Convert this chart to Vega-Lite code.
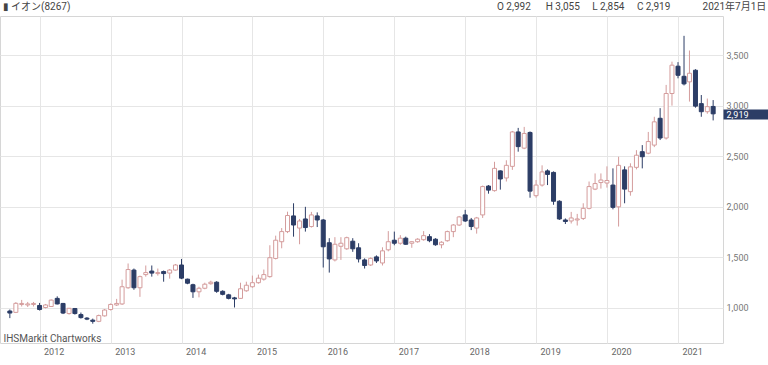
{
  "$schema": "https://vega.github.io/schema/vega-lite/v6.json",
  "width": 723,
  "height": 327,
  "autosize": {"type": "none"},
  "padding": {"left": 0, "top": 16, "right": 45, "bottom": 22},
  "background": "#ffffff",
  "config": {
    "view": {"stroke": "#d6d6d6"},
    "font": "Roboto"
  },
  "title": {
    "text": "▮ イオン(8267)\u00a0\u00a0\u00a0\u00a0\u00a0\u00a0\u00a0\u00a0\u00a0\u00a0\u00a0\u00a0\u00a0\u00a0\u00a0\u00a0\u00a0\u00a0\u00a0\u00a0\u00a0\u00a0\u00a0\u00a0\u00a0\u00a0\u00a0\u00a0\u00a0\u00a0\u00a0\u00a0\u00a0\u00a0\u00a0\u00a0\u00a0\u00a0\u00a0\u00a0\u00a0\u00a0\u00a0\u00a0\u00a0\u00a0\u00a0\u00a0\u00a0\u00a0\u00a0\u00a0\u00a0\u00a0\u00a0\u00a0\u00a0\u00a0\u00a0\u00a0\u00a0\u00a0\u00a0\u00a0\u00a0\u00a0\u00a0\u00a0\u00a0\u00a0\u00a0\u00a0\u00a0\u00a0\u00a0\u00a0\u00a0\u00a0\u00a0\u00a0\u00a0\u00a0\u00a0\u00a0\u00a0\u00a0\u00a0\u00a0\u00a0\u00a0\u00a0\u00a0\u00a0\u00a0\u00a0\u00a0\u00a0\u00a0\u00a0\u00a0\u00a0\u00a0\u00a0\u00a0\u00a0\u00a0\u00a0\u00a0\u00a0\u00a0\u00a0\u00a0\u00a0\u00a0\u00a0\u00a0\u00a0\u00a0\u00a0\u00a0\u00a0\u00a0\u00a0\u00a0\u00a0\u00a0\u00a0\u00a0\u00a0\u00a0\u00a0\u00a0\u00a0\u00a0\u00a0\u00a0\u00a0\u00a0\u00a0\u00a0\u00a0\u00a0\u00a0\u00a0\u00a0\u00a0\u00a0\u00a0\u00a0\u00a0\u00a0\u00a0\u00a0\u00a0\u00a0\u00a0\u00a0\u00a0\u00a0\u00a0\u00a0\u00a0\u00a0\u00a0\u00a0\u00a0\u00a0\u00a0\u00a0\u00a0\u00a0\u00a0O 2,992\u00a0\u00a0\u00a0\u00a0\u00a0\u00a0H 3,055\u00a0\u00a0\u00a0\u00a0\u00a0L 2,854\u00a0\u00a0\u00a0\u00a0\u00a0C 2,919\u00a0\u00a0\u00a0\u00a0\u00a0\u00a0\u00a0\u00a0\u00a0\u00a0\u00a0\u00a0\u00a02021年7月1日",
    "anchor": "start",
    "frame": "group",
    "offset": 4,
    "dx": 3,
    "fontSize": 10,
    "font": "Roboto, 'Noto Sans CJK JP', 'DejaVu Sans'",
    "fontWeight": "normal",
    "color": "#444444"
  },
  "data": {
    "values": [
      {"d": "2011-08-01", "o": 970, "h": 985, "l": 900, "c": 950},
      {"d": "2011-09-01", "o": 957, "h": 1058, "l": 950, "c": 1046},
      {"d": "2011-10-01", "o": 1035, "h": 1080, "l": 1015, "c": 1045},
      {"d": "2011-11-01", "o": 1030, "h": 1060, "l": 1010, "c": 1040},
      {"d": "2011-12-01", "o": 1035, "h": 1060, "l": 1015, "c": 1045},
      {"d": "2012-01-01", "o": 1025, "h": 1050, "l": 975, "c": 985},
      {"d": "2012-02-01", "o": 1005, "h": 1040, "l": 995, "c": 1030},
      {"d": "2012-03-01", "o": 1015, "h": 1085, "l": 1010, "c": 1078},
      {"d": "2012-04-01", "o": 1095, "h": 1115, "l": 1035, "c": 1040},
      {"d": "2012-05-01", "o": 1045, "h": 1050, "l": 940, "c": 950},
      {"d": "2012-06-01", "o": 945, "h": 1000, "l": 935, "c": 997},
      {"d": "2012-07-01", "o": 995, "h": 1000, "l": 935, "c": 945},
      {"d": "2012-08-01", "o": 935, "h": 955, "l": 895, "c": 905},
      {"d": "2012-09-01", "o": 900, "h": 910, "l": 880, "c": 890},
      {"d": "2012-10-01", "o": 880, "h": 895, "l": 845, "c": 868},
      {"d": "2012-11-01", "o": 868, "h": 935, "l": 860, "c": 925},
      {"d": "2012-12-01", "o": 922, "h": 990, "l": 915, "c": 980},
      {"d": "2013-01-01", "o": 985, "h": 1045, "l": 975, "c": 1035},
      {"d": "2013-02-01", "o": 1030, "h": 1090, "l": 1020, "c": 1045},
      {"d": "2013-03-01", "o": 1040, "h": 1280, "l": 1030, "c": 1210},
      {"d": "2013-04-01", "o": 1200, "h": 1440, "l": 1190, "c": 1380},
      {"d": "2013-05-01", "o": 1375, "h": 1390, "l": 1180, "c": 1200},
      {"d": "2013-06-01", "o": 1200, "h": 1320, "l": 1110, "c": 1310},
      {"d": "2013-07-01", "o": 1330, "h": 1420, "l": 1310, "c": 1350},
      {"d": "2013-08-01", "o": 1365, "h": 1420, "l": 1310, "c": 1345},
      {"d": "2013-09-01", "o": 1340, "h": 1390, "l": 1320, "c": 1350},
      {"d": "2013-10-01", "o": 1360, "h": 1370, "l": 1260, "c": 1340},
      {"d": "2013-11-01", "o": 1345, "h": 1385, "l": 1290, "c": 1375},
      {"d": "2013-12-01", "o": 1375, "h": 1435, "l": 1370, "c": 1425},
      {"d": "2014-01-01", "o": 1425, "h": 1485, "l": 1285, "c": 1295},
      {"d": "2014-02-01", "o": 1285, "h": 1290, "l": 1235, "c": 1245},
      {"d": "2014-03-01", "o": 1230, "h": 1240, "l": 1100, "c": 1160},
      {"d": "2014-04-01", "o": 1160, "h": 1210, "l": 1105, "c": 1195},
      {"d": "2014-05-01", "o": 1195, "h": 1250, "l": 1185, "c": 1235},
      {"d": "2014-06-01", "o": 1240, "h": 1270, "l": 1230, "c": 1255},
      {"d": "2014-07-01", "o": 1255, "h": 1265, "l": 1150, "c": 1165},
      {"d": "2014-08-01", "o": 1165, "h": 1175, "l": 1125, "c": 1135},
      {"d": "2014-09-01", "o": 1130, "h": 1140, "l": 1085, "c": 1095},
      {"d": "2014-10-01", "o": 1100, "h": 1110, "l": 1005, "c": 1090},
      {"d": "2014-11-01", "o": 1095, "h": 1250, "l": 1090, "c": 1190},
      {"d": "2014-12-01", "o": 1170, "h": 1260, "l": 1160, "c": 1225},
      {"d": "2015-01-01", "o": 1210, "h": 1320, "l": 1200, "c": 1250},
      {"d": "2015-02-01", "o": 1250, "h": 1330, "l": 1240, "c": 1295},
      {"d": "2015-03-01", "o": 1285, "h": 1380, "l": 1270, "c": 1330},
      {"d": "2015-04-01", "o": 1310, "h": 1620, "l": 1300, "c": 1497},
      {"d": "2015-05-01", "o": 1490, "h": 1715, "l": 1480, "c": 1670},
      {"d": "2015-06-01", "o": 1655, "h": 1790, "l": 1590, "c": 1755},
      {"d": "2015-07-01", "o": 1755, "h": 1952, "l": 1740, "c": 1914},
      {"d": "2015-08-01", "o": 1910, "h": 2035, "l": 1705, "c": 1820},
      {"d": "2015-09-01", "o": 1790, "h": 1880, "l": 1630, "c": 1860},
      {"d": "2015-10-01", "o": 1880, "h": 2000, "l": 1755, "c": 1795},
      {"d": "2015-11-01", "o": 1805, "h": 1950, "l": 1795, "c": 1920},
      {"d": "2015-12-01", "o": 1910, "h": 1945, "l": 1800, "c": 1870},
      {"d": "2016-01-01", "o": 1870, "h": 1880, "l": 1400, "c": 1605},
      {"d": "2016-02-01", "o": 1645, "h": 1690, "l": 1350, "c": 1485},
      {"d": "2016-03-01", "o": 1475, "h": 1700, "l": 1460, "c": 1630},
      {"d": "2016-04-01", "o": 1610, "h": 1700, "l": 1475, "c": 1640},
      {"d": "2016-05-01", "o": 1585, "h": 1705, "l": 1575, "c": 1695},
      {"d": "2016-06-01", "o": 1660, "h": 1690, "l": 1555, "c": 1585},
      {"d": "2016-07-01", "o": 1595, "h": 1640, "l": 1450, "c": 1485},
      {"d": "2016-08-01", "o": 1475, "h": 1490, "l": 1390, "c": 1420},
      {"d": "2016-09-01", "o": 1425, "h": 1500, "l": 1415, "c": 1490},
      {"d": "2016-10-01", "o": 1505, "h": 1520, "l": 1445, "c": 1465},
      {"d": "2016-11-01", "o": 1445, "h": 1600, "l": 1420, "c": 1565},
      {"d": "2016-12-01", "o": 1575, "h": 1760, "l": 1560, "c": 1655},
      {"d": "2017-01-01", "o": 1670, "h": 1755, "l": 1620, "c": 1640},
      {"d": "2017-02-01", "o": 1640, "h": 1720, "l": 1625, "c": 1690},
      {"d": "2017-03-01", "o": 1690, "h": 1705, "l": 1625, "c": 1630},
      {"d": "2017-04-01", "o": 1640, "h": 1660, "l": 1595, "c": 1655},
      {"d": "2017-05-01", "o": 1655, "h": 1690, "l": 1645, "c": 1680},
      {"d": "2017-06-01", "o": 1675, "h": 1760, "l": 1665, "c": 1715},
      {"d": "2017-07-01", "o": 1705, "h": 1730, "l": 1650, "c": 1665},
      {"d": "2017-08-01", "o": 1680, "h": 1690, "l": 1615, "c": 1625},
      {"d": "2017-09-01", "o": 1625, "h": 1660, "l": 1590, "c": 1650},
      {"d": "2017-10-01", "o": 1665, "h": 1765, "l": 1655, "c": 1755},
      {"d": "2017-11-01", "o": 1755, "h": 1830, "l": 1700, "c": 1820},
      {"d": "2017-12-01", "o": 1820, "h": 1910, "l": 1810, "c": 1900},
      {"d": "2018-01-01", "o": 1920, "h": 1970, "l": 1850, "c": 1860},
      {"d": "2018-02-01", "o": 1870, "h": 1890, "l": 1770, "c": 1805},
      {"d": "2018-03-01", "o": 1790, "h": 1900, "l": 1735, "c": 1890},
      {"d": "2018-04-01", "o": 1920, "h": 2210, "l": 1890, "c": 2200},
      {"d": "2018-05-01", "o": 2205, "h": 2215, "l": 2130, "c": 2165},
      {"d": "2018-06-01", "o": 2160, "h": 2445, "l": 2150, "c": 2380},
      {"d": "2018-07-01", "o": 2355, "h": 2360, "l": 2170, "c": 2275},
      {"d": "2018-08-01", "o": 2285, "h": 2460, "l": 2250, "c": 2410},
      {"d": "2018-09-01", "o": 2400, "h": 2750, "l": 2365, "c": 2740},
      {"d": "2018-10-01", "o": 2740, "h": 2780, "l": 2545, "c": 2595},
      {"d": "2018-11-01", "o": 2580, "h": 2790, "l": 2570, "c": 2725},
      {"d": "2018-12-01", "o": 2735, "h": 2745, "l": 2090, "c": 2155},
      {"d": "2019-01-01", "o": 2110, "h": 2265, "l": 2090, "c": 2215},
      {"d": "2019-02-01", "o": 2215, "h": 2410, "l": 2200, "c": 2345},
      {"d": "2019-03-01", "o": 2355, "h": 2370, "l": 2215, "c": 2320},
      {"d": "2019-04-01", "o": 2340, "h": 2350, "l": 2020, "c": 2055},
      {"d": "2019-05-01", "o": 2055, "h": 2065, "l": 1870, "c": 1880},
      {"d": "2019-06-01", "o": 1870, "h": 1885, "l": 1830, "c": 1855},
      {"d": "2019-07-01", "o": 1860, "h": 1950, "l": 1835, "c": 1890},
      {"d": "2019-08-01", "o": 1870, "h": 1930, "l": 1815, "c": 1880},
      {"d": "2019-09-01", "o": 1885, "h": 2035, "l": 1870, "c": 1985},
      {"d": "2019-10-01", "o": 1985, "h": 2250, "l": 1975, "c": 2200},
      {"d": "2019-11-01", "o": 2175, "h": 2330, "l": 2165, "c": 2230},
      {"d": "2019-12-01", "o": 2240, "h": 2330, "l": 2180, "c": 2265},
      {"d": "2020-01-01", "o": 2235, "h": 2400, "l": 2190, "c": 2260},
      {"d": "2020-02-01", "o": 2215, "h": 2380, "l": 1975, "c": 1995},
      {"d": "2020-03-01", "o": 2000, "h": 2495, "l": 1805, "c": 2410},
      {"d": "2020-04-01", "o": 2365, "h": 2400, "l": 2035, "c": 2175},
      {"d": "2020-05-01", "o": 2150, "h": 2430, "l": 2110, "c": 2395},
      {"d": "2020-06-01", "o": 2390, "h": 2560, "l": 2370, "c": 2510},
      {"d": "2020-07-01", "o": 2545, "h": 2610, "l": 2380, "c": 2495},
      {"d": "2020-08-01", "o": 2530, "h": 2740, "l": 2520, "c": 2645},
      {"d": "2020-09-01", "o": 2610, "h": 2890, "l": 2590, "c": 2840},
      {"d": "2020-10-01", "o": 2875, "h": 2975, "l": 2660, "c": 2680},
      {"d": "2020-11-01", "o": 2680, "h": 3205, "l": 2665, "c": 3120},
      {"d": "2020-12-01", "o": 3120, "h": 3435, "l": 3000, "c": 3400},
      {"d": "2021-01-01", "o": 3390, "h": 3430, "l": 3270, "c": 3300},
      {"d": "2021-02-01", "o": 3290, "h": 3690, "l": 3200, "c": 3215},
      {"d": "2021-03-01", "o": 3235, "h": 3545, "l": 3040, "c": 3320},
      {"d": "2021-04-01", "o": 3350, "h": 3360, "l": 2980, "c": 2995},
      {"d": "2021-05-01", "o": 3020, "h": 3105, "l": 2890, "c": 2940},
      {"d": "2021-06-01", "o": 2940, "h": 3070, "l": 2920, "c": 2990},
      {"d": "2021-07-01", "o": 2992, "h": 3055, "l": 2854, "c": 2919}
    ]
  },
  "encoding": {
    "x": {
      "field": "d",
      "type": "temporal",
      "scale": {
        "type": "utc",
        "domain": [
          {"year": 2011, "month": 7, "date": 7, "utc": true},
          {"year": 2021, "month": 7, "date": 26, "utc": true}
        ]
      },
      "axis": {
        "orient": "bottom",
        "values": [
          {"year": 2012, "month": 1, "date": 1, "utc": true},
          {"year": 2013, "month": 1, "date": 1, "utc": true},
          {"year": 2014, "month": 1, "date": 1, "utc": true},
          {"year": 2015, "month": 1, "date": 1, "utc": true},
          {"year": 2016, "month": 1, "date": 1, "utc": true},
          {"year": 2017, "month": 1, "date": 1, "utc": true},
          {"year": 2018, "month": 1, "date": 1, "utc": true},
          {"year": 2019, "month": 1, "date": 1, "utc": true},
          {"year": 2020, "month": 1, "date": 1, "utc": true},
          {"year": 2021, "month": 1, "date": 1, "utc": true}
        ],
        "format": "%Y",
        "grid": true,
        "gridColor": "#e6e6e6",
        "ticks": false,
        "domain": false,
        "labelAlign": "left",
        "labelOffset": 4,
        "labelPadding": 4,
        "labelFontSize": 9,
        "labelFont": "Roboto",
        "labelColor": "#666666",
        "title": "IHSMarkit Chartworks",
        "titleX": 3,
        "titleY": -2,
        "titleAlign": "left",
        "titleAnchor": "start",
        "titleBaseline": "alphabetic",
        "titleFontSize": 10,
        "titleFontWeight": "normal",
        "titleFont": "Roboto",
        "titleColor": "#555555"
      }
    },
    "y": {
      "field": "l",
      "type": "quantitative",
      "scale": {"domain": [654, 3886], "nice": false, "zero": false},
      "axis": {
        "orient": "right",
        "values": [1000, 1500, 2000, 2500, 3000, 3500, 2919],
        "format": ",.0f",
        "grid": true,
        "gridColor": "#e6e6e6",
        "gridOpacity": {"condition": {"test": "datum.value === 2919", "value": 0}, "value": 1},
        "domain": false,
        "tickSize": 45,
        "tickWidth": 10,
        "tickColor": {"condition": {"test": "datum.value === 2919", "value": "#2c3d66"}, "value": "transparent"},
        "labelPadding": -42,
        "labelFontSize": 9,
        "labelOffset": {"condition": {"test": "datum.value === 2919", "value": 1}, "value": 0},
        "labelFont": "Roboto",
        "labelColor": {"condition": {"test": "datum.value === 2919", "value": "#ffffff"}, "value": "#777777"},
        "labelOverlap": false,
        "labelBound": false,
        "title": null
      }
    }
  },
  "layer": [
    {
      "mark": {"type": "rule", "strokeWidth": 1},
      "encoding": {
        "y2": {"field": "h"},
        "color": {"condition": {"test": "datum.c >= datum.o", "value": "#d49c9c"}, "value": "#2c3d66"}
      }
    },
    {
      "mark": {"type": "bar", "size": 4, "strokeWidth": 1},
      "encoding": {
        "y": {"field": "o", "type": "quantitative"},
        "y2": {"field": "c"},
        "fill": {"condition": {"test": "datum.c >= datum.o", "value": "#ffffff"}, "value": "#2c3d66"},
        "stroke": {"condition": {"test": "datum.c >= datum.o", "value": "#d49c9c"}, "value": "#2c3d66"}
      }
    }
  ]
}
